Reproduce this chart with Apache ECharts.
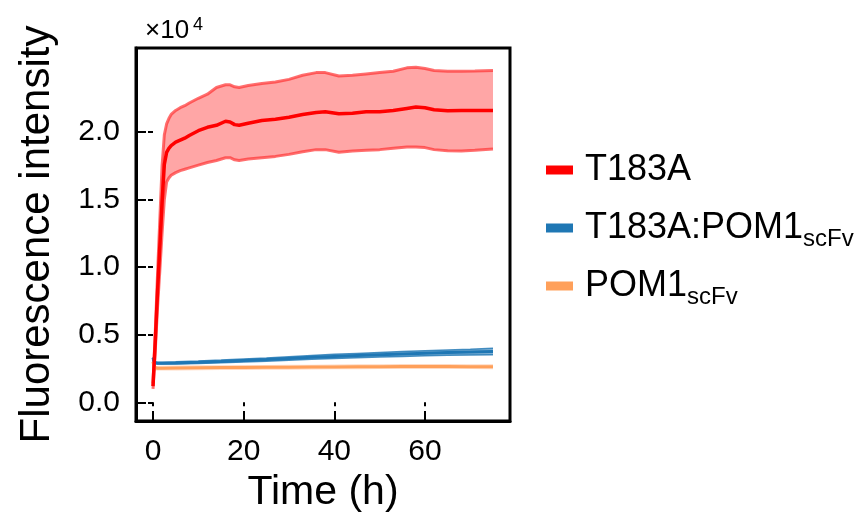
<!DOCTYPE html>
<html><head><meta charset="utf-8">
<script src="https://cdn.jsdelivr.net/npm/echarts@6/dist/echarts.min.js"></script>
<style>html,body{margin:0;padding:0;background:#fff}#c{width:867px;height:518px}</style>
</head><body><div id="c"></div>
<script>
const FONT = '"Liberation Sans", Arial, Helvetica, sans-serif';

// ---- data (time in h, fluorescence intensity) ----
const redTime  = [0, 0.5, 1, 1.5, 2, 2.5, 3, 3.5, 4, 5, 6, 7, 8, 10, 12, 14, 16, 17, 18, 19, 21, 24, 27, 30, 33, 36, 38, 41, 44, 47, 50, 53, 56, 58, 60, 62, 65, 68, 71, 75];
const redMean  = [1200, 4500, 8200, 11500, 14800, 17600, 18500, 18800, 19000, 19250, 19400, 19550, 19750, 20100, 20350, 20500, 20800, 20750, 20550, 20500, 20650, 20850, 20950, 21100, 21300, 21450, 21500, 21350, 21400, 21500, 21500, 21600, 21750, 21850, 21800, 21650, 21570, 21600, 21600, 21600];
const redUpper = [1400, 5200, 9500, 13500, 17500, 19800, 20600, 21000, 21300, 21600, 21800, 21950, 22150, 22500, 22800, 23300, 23500, 23500, 23350, 23300, 23450, 23600, 23700, 23900, 24200, 24400, 24400, 24150, 24200, 24300, 24400, 24500, 24750, 24800, 24700, 24550, 24500, 24500, 24520, 24550];
const redLower = [1000, 3800, 7000, 9700, 12500, 15000, 16300, 16600, 16800, 17000, 17150, 17250, 17350, 17550, 17750, 17900, 18100, 18100, 17950, 17900, 18000, 18100, 18200, 18350, 18550, 18700, 18700, 18500, 18600, 18650, 18700, 18800, 18900, 18900, 18850, 18700, 18620, 18600, 18650, 18750];

const lowTime   = [0, 0.25, 0.5, 1, 2, 5, 10, 15, 20, 25, 30, 35, 40, 45, 50, 55, 60, 65, 70, 75];
const blueMean  = [3300, 2950, 2900, 2900, 2900, 2920, 2970, 3030, 3100, 3170, 3250, 3330, 3400, 3460, 3520, 3580, 3630, 3680, 3720, 3760];
const blueUpper = [3350, 3000, 2950, 2960, 2970, 3000, 3060, 3130, 3210, 3290, 3380, 3470, 3550, 3620, 3690, 3760, 3820, 3880, 3930, 4000];
const blueLower = [3250, 2900, 2850, 2840, 2830, 2840, 2880, 2930, 2990, 3050, 3120, 3190, 3250, 3300, 3350, 3400, 3440, 3480, 3510, 3520];
const orMean    = [3000, 2600, 2520, 2520, 2530, 2540, 2560, 2570, 2580, 2590, 2600, 2610, 2620, 2630, 2640, 2650, 2650, 2650, 2640, 2630];
const orUpper   = [3100, 2750, 2680, 2690, 2700, 2720, 2740, 2750, 2760, 2770, 2780, 2790, 2800, 2810, 2820, 2830, 2830, 2830, 2820, 2810];
const orLower   = [2900, 2450, 2360, 2350, 2360, 2360, 2380, 2390, 2400, 2410, 2420, 2430, 2440, 2450, 2460, 2470, 2470, 2470, 2460, 2450];

const names = ['T183A', 'T183A:POM1scFv', 'POM1scFv'];
const xTicks = [0, 20, 40, 60];
const yTicks = [0, 5000, 10000, 15000, 20000];

function pairs(t, v) { return t.map((x, i) => [x, v[i]]); }
function band(id, t, lo, up, fill) {
  return {
    type: 'custom', name: id, silent: true, z: 1,
    data: t.map((x, i) => [x, lo[i], up[i]]),
    encode: {x: 0, y: [1, 2]},
    renderItem: function (params, api) {
      if (params.dataIndex !== 0) return null;
      const pts = [];
      for (let i = 0; i < t.length; i++) pts.push(api.coord([t[i], up[i]]));
      for (let i = t.length - 1; i >= 0; i--) pts.push(api.coord([t[i], lo[i]]));
      return {type: 'polygon', shape: {points: pts}, style: {fill: fill}};
    }
  };
}
function edge(id, t, v, color, w) {
  return {type: 'line', name: id, data: pairs(t, v), symbol: 'none', lineStyle: {color: color, width: w}, silent: true, z: 2};
}
function mean(name, t, v, color, w, z) {
  return {type: 'line', name: name, data: pairs(t, v), symbol: 'none', color: color, itemStyle: {color: color}, lineStyle: {color: color, width: w}, z: z};
}

const series = [
  band('redBand', redTime, redLower, redUpper, '#ffa6a6'),
  edge('redU', redTime, redUpper, 'rgba(255,50,50,0.7)', 3),
  edge('redL', redTime, redLower, 'rgba(255,50,50,0.7)', 3),
  band('blueBand', lowTime, blueLower, blueUpper, 'rgba(31,119,180,0.55)'),
  edge('blueU', lowTime, blueUpper, 'rgba(31,119,180,0.8)', 1.5),
  edge('blueL', lowTime, blueLower, 'rgba(31,119,180,0.8)', 1.5),
  band('orBand', lowTime, orLower, orUpper, 'rgba(255,150,80,0.35)'),
  mean(names[1], lowTime, blueMean, '#1f77b4', 3, 3),
  mean(names[2], lowTime, orMean, '#ffa05a', 3, 3),
  mean(names[0], redTime, redMean, '#ff0000', 3.5, 4)
];

function legendFor(name, top) {
  return {
    data: [name], left: 546, top: top, padding: 0, orient: 'vertical',
    icon: 'rect', itemWidth: 27, itemHeight: 9, selectedMode: false,
    formatter: n => n.indexOf('scFv') >= 0 ? '{m|' + n.replace('scFv', '') + '}{s|scFv}' : '{m|' + n + '}',
    textStyle: {
      color: '#000', fontFamily: FONT,
      rich: {
        m: {fontSize: 36, lineHeight: 46, padding: [0, 0, 0, 7], color: '#000', fontFamily: FONT},
        s: {fontSize: 24, lineHeight: 24, verticalAlign: 'bottom', color: '#000', fontFamily: FONT}
      }
    }
  };
}

const tickStyle = {color: '#000', width: 2};
const option = {
  animation: false,
  backgroundColor: '#fff',
  title: {
    text: '×10{b|4}', left: 145, top: 16, padding: 0,
    textStyle: {
      fontFamily: FONT, color: '#000', fontWeight: 'normal', fontSize: 26, lineHeight: 29,
      rich: {
        b: {fontSize: 18, lineHeight: 17, verticalAlign: 'top', padding: [0, 0, 0, 4], fontFamily: FONT, fontWeight: 'normal', color: '#000'}
      }
    }
  },
  grid: {left: 136, top: 48, width: 374, height: 374, show: true, borderColor: '#000', borderWidth: 3, backgroundColor: 'transparent'},
  xAxis: [
    {type: 'value', min: -3.75, max: 78.75, position: 'bottom',
     name: 'Time (h)', nameLocation: 'middle', nameGap: 51,
     nameTextStyle: {fontSize: 41, color: '#000', fontFamily: FONT},
     axisLine: {show: true, onZero: false, lineStyle: {color: '#000', width: 3}},
     axisTick: {show: true, inside: true, length: 10, lineStyle: tickStyle, customValues: xTicks},
     axisLabel: {customValues: xTicks, fontSize: 30, color: '#000', margin: 16, fontFamily: FONT},
     splitLine: {show: false}},
    {type: 'value', min: -3.75, max: 78.75, position: 'bottom',
     axisLine: {show: false},
     axisTick: {show: true, inside: false, length: 4, lineStyle: tickStyle, customValues: xTicks},
     axisLabel: {show: false}, splitLine: {show: false}}
  ],
  yAxis: [
    {type: 'value', min: -1380, max: 26220, position: 'left',
     name: 'Fluorescence intensity', nameLocation: 'middle', nameGap: 78,
     nameTextStyle: {fontSize: 42, color: '#000', fontFamily: FONT},
     axisLine: {show: true, onZero: false, lineStyle: {color: '#000', width: 3}},
     axisTick: {show: true, inside: true, length: 10, lineStyle: tickStyle, customValues: yTicks},
     axisLabel: {customValues: yTicks, fontSize: 30, color: '#000', margin: 16, fontFamily: FONT,
                 formatter: v => (v / 10000).toFixed(1)},
     splitLine: {show: false}},
    {type: 'value', min: -1380, max: 26220, position: 'left',
     axisLine: {show: false},
     axisTick: {show: true, inside: false, length: 5, lineStyle: tickStyle, customValues: yTicks},
     axisLabel: {show: false}, splitLine: {show: false}}
  ],
  legend: [legendFor(names[0], 152), legendFor(names[1], 210), legendFor(names[2], 268)],
  series: series
};

const chart = echarts.init(document.getElementById('c'), null, {renderer: 'canvas'});
chart.setOption(option);
</script>
</body></html>
